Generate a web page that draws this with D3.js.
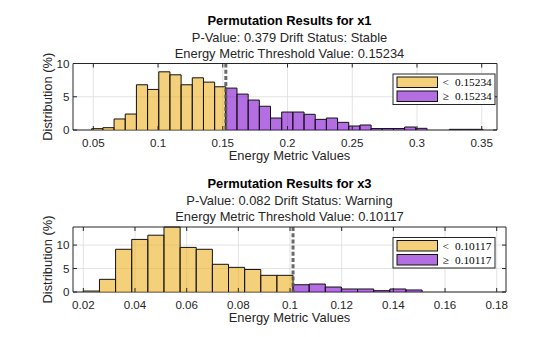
<!DOCTYPE html>
<html>
<head>
<meta charset="utf-8">
<script src="https://cdn.jsdelivr.net/npm/d3@7"></script>
<style>
  body { margin: 0; background: #fff; }
  svg { display: block; font-family: "Liberation Sans", Arial, sans-serif; }
</style>
</head>
<body>
<div id="chart"></div>
<script>
// x1 panel
const x1Threshold = 0.15234;
const x1BinWidth = 0.008632;
const x1Below = [0.2, 0.35, 1.66, 2.4, 6.8, 6.1, 8.75, 8.3, 6.8, 7.85, 7.2, 6.5];
const x1Above = [6.3, 5.4, 4.5, 3.57, 1.8, 2.7, 2.7, 2.36, 1.6, 1.8, 1.15, 0.6, 0.75,
  0.22, 0.22, 0.22, 0.45, 0.25, 0, 0, 0.1, 0.1, 0.1];
const x1Ticks = [0.05, 0.1, 0.15, 0.2, 0.25, 0.3, 0.35];
const x1Title = ["Permutation Results for x1", "P-Value: 0.379 Drift Status: Stable", "Energy Metric Threshold Value: 0.15234"];

// x3 panel
const x3Threshold = 0.10117;
const x3BinWidth = 0.006244;
const x3Below = [0.2, 2.7, 9.1, 11.2, 12.1, 13.85, 9.5, 9.1, 5.9, 5.25, 4.8, 3.55, 3.55];
const x3Above = [1.55, 1.7, 1.06, 0.64, 0.64, 0.28, 0.64, 0.43];
const x3Ticks = [0.02, 0.04, 0.06, 0.08, 0.1, 0.12, 0.14, 0.16, 0.18];
const x3Title = ["Permutation Results for x3", "P-Value: 0.082 Drift Status: Warning", "Energy Metric Threshold Value: 0.10117"];

const yTicks = [0, 5, 10];

const W = 560, H = 337;
const axisColor = '#262626';
const gridColor = '#dcdcdc';
const belowColor = 'rgb(238,176,33)';
const aboveColor = 'rgb(128,14,207)';
const centerX = 289.5;
const tickFont = 11.6;
const labelFont = 12.9;

const svg = d3.select('#chart').append('svg')
  .attr('width', W)
  .attr('height', H);

function drawPanel(cfg) {
  const { left, right, top, bottom } = cfg.box;
  const x = d3.scaleLinear().domain(cfg.xDomain).range([left, right]);
  const y = d3.scaleLinear().domain(cfg.yDomain).range([bottom, top]);
  const g = svg.append('g');

  // 网格
  g.append('g').selectAll('line.gx')
    .data(cfg.xTicks)
    .join('line')
    .attr('x1', d => x(d)).attr('x2', d => x(d))
    .attr('y1', top).attr('y2', bottom)
    .attr('stroke', gridColor).attr('stroke-width', 0.8);
  g.append('g').selectAll('line.gy')
    .data(yTicks.filter(d => d <= cfg.yDomain[1]))
    .join('line')
    .attr('x1', left).attr('x2', right)
    .attr('y1', d => y(d)).attr('y2', d => y(d))
    .attr('stroke', gridColor).attr('stroke-width', 0.8);

  // baseline under the bars
  g.append('line')
    .attr('x1', left).attr('x2', right)
    .attr('y1', bottom).attr('y2', bottom)
    .attr('stroke', axisColor).attr('stroke-width', 1.2);

  // bins
  const bins = [];
  cfg.below.forEach((v, i) => bins.push({
    x0: cfg.threshold - (cfg.below.length - i) * cfg.binWidth,
    x1: cfg.threshold - (cfg.below.length - i - 1) * cfg.binWidth,
    v, color: belowColor
  }));
  cfg.above.forEach((v, i) => bins.push({
    x0: cfg.threshold + i * cfg.binWidth,
    x1: cfg.threshold + (i + 1) * cfg.binWidth,
    v, color: aboveColor
  }));

  g.append('g').selectAll('path')
    .data(bins.filter(d => d.v > 0))
    .join('path')
    .attr('d', d => `M${x(d.x0)},${y(0)}V${y(d.v)}H${x(d.x1)}V${y(0)}`)
    .attr('fill', d => d.color)
    .attr('fill-opacity', 0.6)
    .attr('stroke', '#111')
    .attr('stroke-width', 1);

  // 阈值线
  g.append('line')
    .attr('x1', x(cfg.threshold)).attr('x2', x(cfg.threshold))
    .attr('y1', top).attr('y2', bottom)
    .attr('stroke', '#5a5a5a')
    .attr('stroke-opacity', 0.9)
    .attr('stroke-width', 3)
    .attr('stroke-dasharray', '4,2.2');

  // box
  g.append('path')
    .attr('d', `M${left},${bottom}V${top}H${right}V${bottom}`)
    .attr('fill', 'none')
    .attr('stroke', axisColor)
    .attr('stroke-width', 1);

  // ticks (inward, all sides)
  const tl = 4;
  cfg.xTicks.forEach(t => {
    g.append('line').attr('x1', x(t)).attr('x2', x(t)).attr('y1', bottom).attr('y2', bottom - tl)
      .attr('stroke', axisColor);
    g.append('line').attr('x1', x(t)).attr('x2', x(t)).attr('y1', top).attr('y2', top + tl)
      .attr('stroke', axisColor);
  });
  yTicks.forEach(t => {
    g.append('line').attr('x1', left).attr('x2', left + tl).attr('y1', y(t)).attr('y2', y(t))
      .attr('stroke', axisColor);
    g.append('line').attr('x1', right).attr('x2', right - tl).attr('y1', y(t)).attr('y2', y(t))
      .attr('stroke', axisColor);
  });

  // tick labels
  g.append('g').selectAll('text')
    .data(cfg.xTicks)
    .join('text')
    .attr('x', d => x(d))
    .attr('y', bottom + 16.5)
    .attr('text-anchor', 'middle')
    .attr('font-size', tickFont)
    .attr('fill', axisColor)
    .text(d => d3.format('~g')(d));
  g.append('g').selectAll('text')
    .data(yTicks)
    .join('text')
    .attr('x', left - 3.5)
    .attr('y', d => y(d) + 4.2)
    .attr('text-anchor', 'end')
    .attr('font-size', tickFont)
    .attr('fill', axisColor)
    .text(d => d);

  // axis labels
  g.append('text')
    .attr('x', centerX)
    .attr('y', bottom + 29.5)
    .attr('text-anchor', 'middle')
    .attr('font-size', labelFont)
    .attr('fill', axisColor)
    .text('Energy Metric Values');
  g.append('text')
    .attr('transform', `translate(51.5,${(top + bottom) / 2}) rotate(-90)`)
    .attr('text-anchor', 'middle')
    .attr('font-size', labelFont)
    .attr('fill', axisColor)
    .text('Distribution (%)');

  // titles
  const offsets = [-39, -22, -6];
  cfg.title.forEach((t, i) => {
    g.append('text')
      .attr('x', centerX)
      .attr('y', top + offsets[i])
      .attr('text-anchor', 'middle')
      .attr('font-size', labelFont)
      .attr('font-weight', i === 0 ? 'bold' : 'normal')
      .attr('fill', i === 0 ? '#000' : axisColor)
      .text(t);
  });

  // legend
  const lx = 393, ly = top + 10.5, lw = 102, lh = 30.5;
  const lg = g.append('g').attr('transform', `translate(${lx},${ly})`);
  lg.append('rect')
    .attr('width', lw).attr('height', lh)
    .attr('fill', '#fff')
    .attr('stroke', axisColor).attr('stroke-width', 1);
  const items = [
    { sym: '<', color: belowColor },
    { sym: '\u2265', color: aboveColor }
  ];
  items.forEach((it, i) => {
    const yy = 3 + i * 14;
    lg.append('rect')
      .attr('x', 4).attr('y', yy)
      .attr('width', 40.5).attr('height', 10.5)
      .attr('fill', it.color).attr('fill-opacity', 0.6)
      .attr('stroke', '#111').attr('stroke-width', 1);
    lg.append('text')
      .attr('x', 49.5).attr('y', yy + 9)
      .attr('font-family', '"Liberation Serif", "Times New Roman", serif')
      .attr('font-size', 11.3)
      .attr('fill', '#000')
      .text(it.sym);
    lg.append('text')
      .attr('x', 62).attr('y', yy + 9)
      .attr('font-family', '"Liberation Serif", "Times New Roman", serif')
      .attr('font-size', 11.3)
      .attr('fill', '#000')
      .text(d3.format('.5f')(cfg.threshold));
  });
}

drawPanel({
  box: { left: 73, right: 497, top: 63.5, bottom: 130 },
  xDomain: [0.0343, 0.3618],
  yDomain: [0, 10],
  xTicks: x1Ticks,
  threshold: x1Threshold,
  binWidth: x1BinWidth,
  below: x1Below,
  above: x1Above,
  title: x1Title
});

drawPanel({
  box: { left: 73, right: 506, top: 227, bottom: 292 },
  xDomain: [0.016, 0.1836],
  yDomain: [0, 13.85],
  xTicks: x3Ticks,
  threshold: x3Threshold,
  binWidth: x3BinWidth,
  below: x3Below,
  above: x3Above,
  title: x3Title
});
</script>
</body>
</html>
